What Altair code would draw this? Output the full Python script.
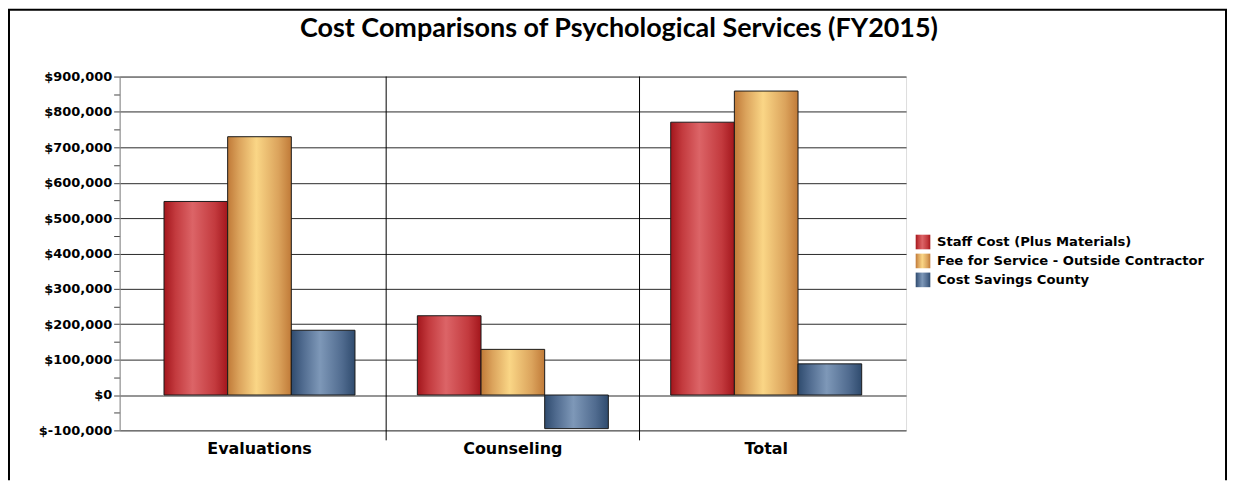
import altair as alt
import pandas as pd

# ---------------- data ----------------
categories = ["Evaluations", "Counseling", "Total"]
series = [
    "Staff Cost (Plus Materials)",
    "Fee for Service - Outside Contractor",
    "Cost Savings County",
]
staff_cost = [547000, 224000, 771000]
fee_for_service = [730000, 129000, 859000]
cost_savings = [183000, -95000, 88000]
y_ticks = list(range(-100000, 900001, 50000))
chart_title = "Cost Comparisons of Psychological Services (FY2015)"

values_by_series = [staff_cost, fee_for_service, cost_savings]
rows = []
for s, vals in zip(series, values_by_series):
    for c, v in zip(categories, vals):
        rows.append({"category": c, "series": s, "value": v})
df = pd.DataFrame(rows)
sep_df = pd.DataFrame({"category": categories[1:]})
legend_df = pd.DataFrame({"series": series})
one = pd.DataFrame({"a": [0]})

# ---------------- styles ----------------
W, H = 789, 355
PAD = {"left": 112, "top": 68, "right": 323, "bottom": 50}
FONT = "DejaVu Sans"


def grad(dark, mid, light):
    return alt.Gradient(
        gradient="linear", x1=0, x2=1, y1=0, y2=0,
        stops=[
            alt.GradientStop(offset=0, color=dark),
            alt.GradientStop(offset=0.18, color=mid),
            alt.GradientStop(offset=0.45, color=light),
            alt.GradientStop(offset=0.8, color=mid),
            alt.GradientStop(offset=1, color=dark),
        ],
    )


fills = [
    grad("#a3161c", "#c33a3e", "#dc6467"),
    grad("#c07a38", "#dba35c", "#fad686"),
    grad("#2f4b6e", "#506b8f", "#7e98b8"),
]

x_axis = alt.Axis(
    title=None, labelFont=FONT, labelFontWeight="bold", labelFontSize=16,
    labelColor="black", ticks=False, domain=False, labelPadding=10,
    labelAngle=0, grid=False,
)
y_axis = alt.Axis(
    title=None, values=y_ticks,
    labelExpr="datum.value % 100000 === 0 ? '$' + replace(format(datum.value, ','), '\u2212', '-') : ''",
    labelFont=FONT, labelFontWeight="bold", labelFontSize=13, labelColor="black",
    labelPadding=2, labelOverlap=False, labelFlush=False,
    tickSize=6, tickColor="#444", domainColor="#888",
    grid=True, gridColor="#2a2a2a",
    gridOpacity={"condition": {"test": "datum.value % 100000 !== 0", "value": 0}, "value": 1},
)
x_scale = alt.Scale(domain=categories, paddingInner=0, paddingOuter=0.052)
x_enc = alt.X("category:N", sort=categories, scale=x_scale, axis=x_axis)
xo_enc = alt.XOffset("series:N", sort=series,
                     scale=alt.Scale(domain=series, paddingInner=0, paddingOuter=0.49))
y_enc = alt.Y("value:Q", scale=alt.Scale(domain=[-100000, 900000], nice=False, zero=False),
              axis=y_axis)

bar_layers = []
for s, f in zip(series, fills):
    bar_layers.append(
        alt.Chart(df).transform_filter(alt.datum.series == s)
        .mark_bar(fill=f, stroke="#1a1a1a", strokeWidth=1)
        .encode(x=x_enc, xOffset=xo_enc, y=y_enc)
    )

separators = alt.Chart(sep_df).mark_rule(color="black", strokeWidth=1).encode(
    x=alt.X("category:N", sort=categories, bandPosition=0, scale=x_scale, axis=x_axis),
    y=alt.value(0), y2=alt.value(H + 10),
)

main = alt.layer(*bar_layers, separators)

# ---------------- legend ----------------
leg_y = alt.Y("series:N", sort=series,
              scale=alt.Scale(type="point", domain=series, range=[166, 204], padding=0),
              axis=None)
legend_layers = []
for s, f in zip(series, fills):
    legend_layers.append(
        alt.Chart(legend_df).transform_filter(alt.datum.series == s)
        .mark_square(fill=f, size=215, opacity=1, strokeWidth=0)
        .encode(x=alt.value(806), y=leg_y)
    )
legend_text = alt.Chart(legend_df).mark_text(
    align="left", baseline="middle", font=FONT, fontWeight="bold",
    fontSize=13.2, color="black",
).encode(x=alt.value(820), y=leg_y, text="series:N")
legend = alt.layer(*legend_layers, legend_text)

# ---------------- title & frame ----------------
title = alt.Chart(one).mark_text(
    align="center", baseline="alphabetic", font="Lato", fontWeight="bold",
    fontSize=27, color="black",
).encode(x=alt.value(501), y=alt.value(-40), text=alt.value(chart_title))

frame_left = alt.Chart(one).mark_rule(color="black", strokeWidth=2).encode(
    x=alt.value(-111), y=alt.value(-67), y2=alt.value(H + PAD["bottom"]))
frame_top = alt.Chart(one).mark_rule(color="black", strokeWidth=2).encode(
    x=alt.value(-112), x2=alt.value(1111), y=alt.value(-67))
frame_right = alt.Chart(one).mark_rule(color="black", strokeWidth=2).encode(
    x=alt.value(1110), y=alt.value(-67), y2=alt.value(H + PAD["bottom"]))

chart = (
    alt.layer(main, legend, title, frame_left, frame_top, frame_right)
    .resolve_scale(y="independent")
    .properties(width=W, height=H, padding=PAD,
                autosize=alt.AutoSizeParams(type="none"))
    .configure_view(stroke="black", strokeWidth=1)
    .configure(background="white")
)

chart.save("out.html", embed_options={"renderer": "svg", "actions": False})
